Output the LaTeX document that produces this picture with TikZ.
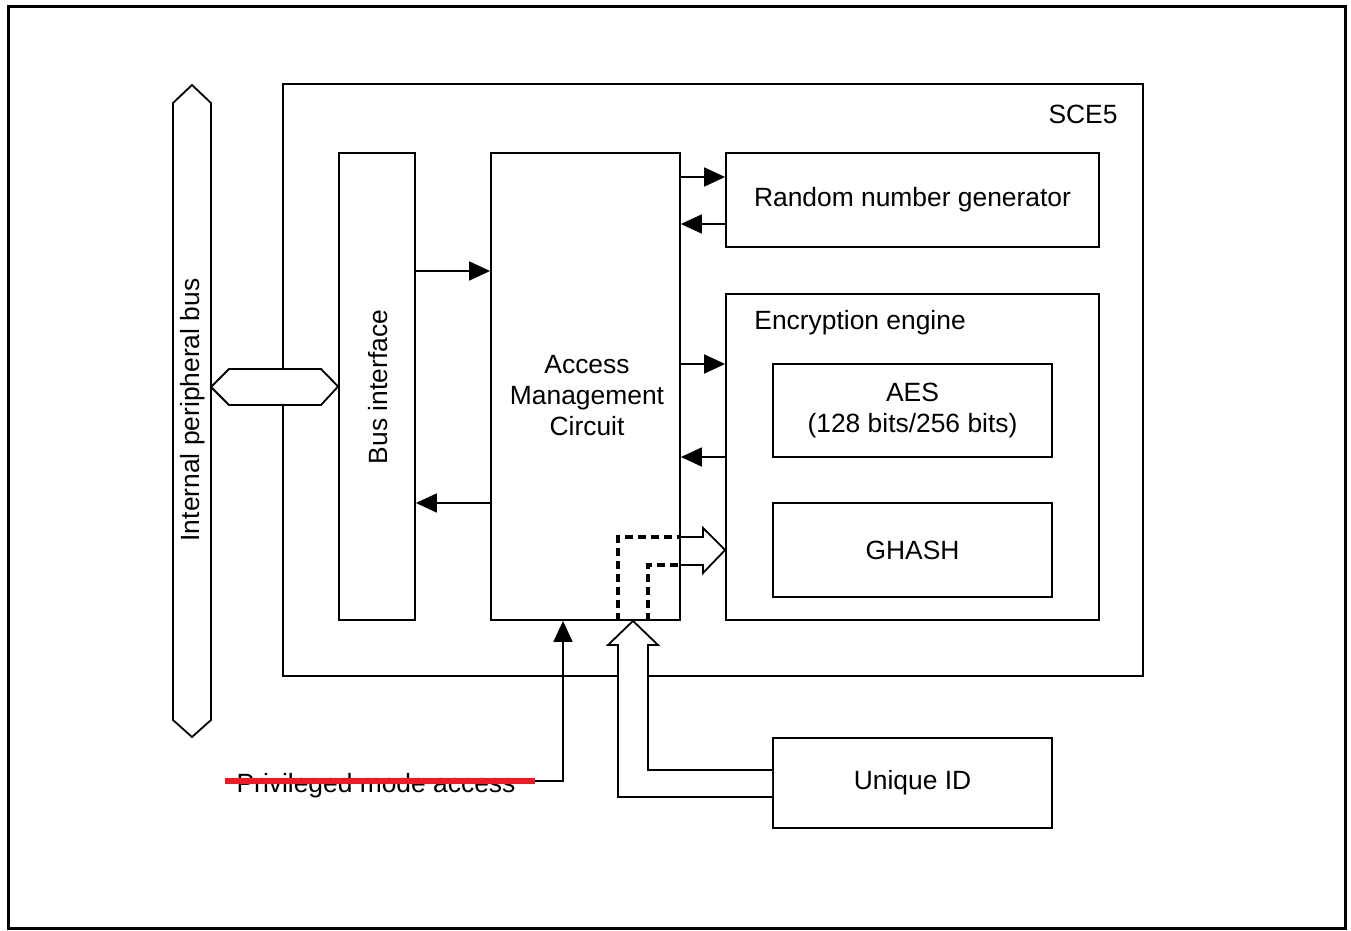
\documentclass[tikz,border=0pt]{standalone}
\usepackage{fontspec}
\setmainfont{Liberation Sans}
\usetikzlibrary{arrows.meta}
\definecolor{strikered}{RGB}{237,28,36}
\begin{document}
\begin{tikzpicture}[x=0.5pt,y=-0.5pt,
  font=\fontsize{13.2pt}{15.5pt}\selectfont,
  blk/.style={draw, line width=0.9pt, inner sep=0pt, align=center},
  arr/.style={line width=0.9pt, -{Triangle[length=10.5pt,width=9.5pt]}},
  hollow/.style={draw, line width=0.9pt, fill=white},
  dsh/.style={line width=1.6pt, dash pattern=on 4pt off 2.5pt}]
\useasboundingbox (0,0) rectangle (1351,931);
\draw[line width=1.5pt] (8,7) rectangle (1345,928);
\node[blk, minimum width=430pt, minimum height=296pt] (sce) at (713,380) {};
\node (scelbl) at (1083,114) {SCE5};
\node[blk, minimum width=38pt, minimum height=233.5pt] (bif) at (377,386.5) {};
\node[rotate=90] (biflbl) at (378,387) {Bus interface};
\node[blk, minimum width=94.5pt, minimum height=233.5pt] (amc) at (585.5,386.5) {};
\node[align=center] (amclbl) at (587,396) {Access\\Management\\Circuit};
\node[blk, minimum width=186.5pt, minimum height=47pt] (rng) at (912.5,200) {Random number generator};
\node[blk, minimum width=186.5pt, minimum height=163pt] (enc) at (912.5,457) {};
\node[anchor=west, inner sep=0pt] (enclbl) at (754,323) {Encryption engine};
\node[blk, minimum width=139.5pt, minimum height=46.5pt] (aes) at (912.5,410.5) {AES\\(128 bits/256 bits)};
\node[blk, minimum width=139.5pt, minimum height=47pt] (ghash) at (912.5,550) {GHASH};
\node[blk, minimum width=139.5pt, minimum height=45pt] (uid) at (912.5,783) {Unique ID};
\draw[hollow] (192,85) -- (211,103) -- (211,720) -- (192,737) -- (173,720) -- (173,103) -- cycle;
\node[rotate=90] (ipb) at (193,410) {Internal peripheral bus};
\draw[hollow] (211,387) -- (229,369) -- (321,369) -- (bif.west) -- (321,405) -- (229,405) -- cycle;
\draw[arr] (amc.east |- 0,177) -- (rng.west |- 0,177);
\draw[arr] (rng.west |- 0,224) -- (amc.east |- 0,224);
\draw[arr] (bif.east |- 0,271) -- (amc.west |- 0,271);
\draw[arr] (amc.west |- 0,503) -- (bif.east |- 0,503);
\draw[arr] (amc.east |- 0,364) -- (enc.west |- 0,364);
\draw[arr] (enc.west |- 0,457) -- (amc.east |- 0,457);
\draw[dsh] (amc.south -| 618,0) |- (amc.east |- 0,537);
\draw[dsh] (amc.south -| 648,0) |- (amc.east |- 0,565);
\draw[line width=0.9pt] (amc.east |- 0,537) -- (703,537) -- (703,528) -- (enc.west |- 0,550) -- (703,573) -- (703,565) -- (amc.east |- 0,565);
\draw[hollow] (uid.west |- 0,770) -- (648,770) -- (648,645) -- (658,645) -- (amc.south -| 633,0) -- (608,645) -- (618,645) -- (618,797) -- (uid.west |- 0,797);
\node (pma) at (376,786) {Privileged mode access};
\draw[strikered, line width=2.6pt] (225,781) -- (535,781) coordinate (pmaend);
\draw[arr] (pmaend) -| (amc.south -| 563,0);
\end{tikzpicture}
\end{document}
